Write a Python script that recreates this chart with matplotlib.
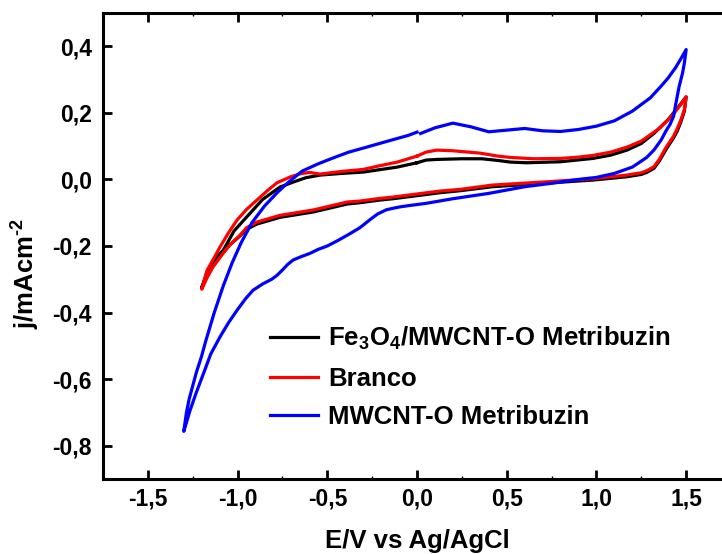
import numpy as np
import matplotlib
matplotlib.use("Agg")
import matplotlib.pyplot as plt
from matplotlib.ticker import FuncFormatter, MultipleLocator

plt.rcParams['font.family'] = ['Liberation Sans', 'DejaVu Sans']
plt.rcParams['font.weight'] = 'bold'
plt.rcParams['mathtext.fontset'] = 'custom'
plt.rcParams['mathtext.rm'] = 'Liberation Sans:bold'
plt.rcParams['mathtext.bf'] = 'Liberation Sans:bold'
plt.rcParams['mathtext.default'] = 'rm'

# voltamogramas (E em V, j em mA/cm2), cada um como ciclo fechado

# Fe3O4/MWCNT-O Metribuzin
e_fe = [0.0, 0.05, 0.11, 0.25, 0.36, 0.45, 0.52, 0.61, 0.80, 0.98, 1.08, 1.17, 1.25, 1.32, 1.40, 1.46, 1.50,
        1.49, 1.47, 1.45, 1.43, 1.39, 1.35, 1.32, 1.28, 1.25, 1.17, 0.98, 0.70, 0.42, 0.24, 0.128, -0.133, -0.206, -0.318,
        -0.39, -0.50, -0.58, -0.764, -0.892, -0.95, -0.987, -1.04, -1.081, -1.137, -1.17, -1.20,
        -1.17, -1.13, -1.08, -1.02, -0.948, -0.86, -0.764, -0.69, -0.62, -0.54, -0.42, -0.30, -0.11, 0.0]
j_fe = [0.050, 0.058, 0.060, 0.062, 0.062, 0.057, 0.052, 0.050, 0.053, 0.063, 0.073, 0.088, 0.108, 0.138, 0.180, 0.220, 0.248,
        0.205, 0.172, 0.145, 0.125, 0.092, 0.055, 0.033, 0.021, 0.015, 0.008, -0.002, -0.012, -0.022, -0.034, -0.040, -0.058, -0.062, -0.070,
        -0.074, -0.088, -0.098, -0.114, -0.134, -0.150, -0.170, -0.195, -0.220, -0.260, -0.290, -0.325,
        -0.280, -0.240, -0.213, -0.155, -0.112, -0.060, -0.023, -0.008, 0.005, 0.013, 0.018, 0.022, 0.037, 0.050]

# Branco
e_br = [0.0, 0.05, 0.11, 0.20, 0.35, 0.45, 0.52, 0.65, 0.80, 0.90, 0.98, 1.08, 1.17, 1.25, 1.35, 1.42, 1.47, 1.50,
        1.49, 1.47, 1.45, 1.43, 1.39, 1.35, 1.32, 1.28, 1.25, 1.17, 0.98, 0.70, 0.42, 0.24, 0.128, -0.133, -0.206, -0.318,
        -0.39, -0.50, -0.58, -0.764, -0.892, -0.95, -0.987, -1.04, -1.081, -1.137, -1.17, -1.20,
        -1.17, -1.13, -1.098, -1.05, -1.003, -0.95, -0.892, -0.83, -0.78, -0.708, -0.65, -0.60, -0.54,
        -0.42, -0.30, -0.20, -0.11, 0.0]
j_br = [0.070, 0.082, 0.088, 0.086, 0.079, 0.070, 0.066, 0.062, 0.063, 0.067, 0.072, 0.082, 0.097, 0.115, 0.153, 0.190, 0.225, 0.248,
        0.210, 0.178, 0.152, 0.130, 0.098, 0.060, 0.038, 0.026, 0.020, 0.013, 0.002, -0.008, -0.017, -0.030, -0.035, -0.053, -0.057, -0.065,
        -0.068, -0.082, -0.092, -0.108, -0.128, -0.145, -0.168, -0.195, -0.222, -0.263, -0.295, -0.330,
        -0.273, -0.235, -0.203, -0.160, -0.122, -0.090, -0.062, -0.032, -0.010, 0.007, 0.017, 0.021, 0.016,
        0.024, 0.030, 0.042, 0.052, 0.070]

# MWCNT-O Metribuzin
e_mw = [0.02, 0.10, 0.20, 0.30, 0.40, 0.50, 0.60, 0.70, 0.80, 0.90, 1.00, 1.10, 1.20, 1.30, 1.36, 1.40, 1.44, 1.47, 1.50,
        1.49, 1.48, 1.46, 1.445, 1.43, 1.41, 1.39, 1.36, 1.32, 1.28, 1.25, 1.20, 1.10, 1.00, 0.90, 0.76, 0.60, 0.40, 0.20, 0.05,
        -0.05, -0.10, -0.17, -0.22, -0.26, -0.318, -0.38, -0.446, -0.50, -0.55, -0.596, -0.65, -0.69, -0.72,
        -0.75, -0.78, -0.81, -0.86, -0.914, -0.955, -1.003, -1.05, -1.098, -1.15, -1.19, -1.23, -1.265, -1.30,
        -1.285, -1.27, -1.25, -1.23, -1.20, -1.18, -1.13, -1.08, -1.03, -0.98, -0.92, -0.85, -0.78, -0.72, -0.64, -0.55,
        -0.47, -0.38, -0.28, -0.15, -0.05, 0.0]
j_mw = [0.138, 0.155, 0.169, 0.158, 0.143, 0.148, 0.153, 0.146, 0.144, 0.150, 0.160, 0.176, 0.205, 0.245, 0.280, 0.305, 0.335, 0.362, 0.390,
        0.350, 0.320, 0.277, 0.235, 0.190, 0.165, 0.148, 0.118, 0.088, 0.066, 0.055, 0.037, 0.018, 0.006, 0.000, -0.011, -0.022, -0.042, -0.058, -0.072,
        -0.079, -0.083, -0.091, -0.104, -0.120, -0.145, -0.165, -0.185, -0.200, -0.210, -0.222, -0.233, -0.242, -0.255,
        -0.272, -0.288, -0.300, -0.314, -0.333, -0.358, -0.393, -0.430, -0.473, -0.525, -0.583, -0.640, -0.694, -0.757,
        -0.700, -0.660, -0.620, -0.580, -0.530, -0.490, -0.400, -0.320, -0.250, -0.190, -0.130, -0.080, -0.040, -0.010, 0.025, 0.047,
        0.064, 0.082, 0.097, 0.117, 0.132, 0.142]

series = [
    (e_fe, j_fe, "black", "Fe$_3$O$_4$/MWCNT-O Metribuzin"),
    (e_br, j_br, "#ff0000", "Branco"),
    (e_mw, j_mw, "#0000ff", "MWCNT-O Metribuzin"),
]

fig = plt.figure(figsize=(7.22, 5.54), dpi=100)
ax = fig.add_axes([0.1427, 0.1354, 0.8698, 0.8412])

for e, j, cor, nome in series:
    ax.plot(e, j, color=cor, lw=2.3, label=nome, solid_joinstyle="round")

ax.set_xlim(-1.75, 1.75)
ax.set_ylim(-0.9, 0.5)
ax.xaxis.set_major_locator(MultipleLocator(0.5))
ax.xaxis.set_minor_locator(MultipleLocator(0.25))
ax.yaxis.set_major_locator(MultipleLocator(0.2))

fmt = FuncFormatter(lambda v, p: f"{v:.1f}".replace(".", ",").replace("-0,0", "0,0"))
ax.xaxis.set_major_formatter(fmt)
ax.yaxis.set_major_formatter(fmt)

ax.tick_params(which="major", direction="in", length=6.5, width=2, top=True, right=True,
               labelsize=16.5, pad=6)
ax.tick_params(which="minor", direction="in", length=2, width=1, top=True, right=True)
ax.tick_params(axis="y", pad=8)
for lab in ax.get_xticklabels() + ax.get_yticklabels():
    lab.set_fontweight("bold")

for s in ax.spines.values():
    s.set_linewidth(2.2)

ax.set_xlabel("E/V vs Ag/AgCl", fontsize=18.5, fontweight="bold")
ax.set_ylabel("j/mAcm$^{\u20102}$", fontsize=18.5, fontweight="bold")
ax.xaxis.set_label_coords(0.5, -0.108)
ax.yaxis.set_label_coords(-0.097, 0.44)

leg = ax.legend(loc="upper left", bbox_to_anchor=(0.266, 0.33), frameon=False,
                fontsize=18.5, handlelength=1.87, handletextpad=0.39,
                labelspacing=0.56, borderpad=0, borderaxespad=0)
for t in leg.get_texts():
    t.set_fontweight("bold")

fig.savefig("out.png", dpi=100)
